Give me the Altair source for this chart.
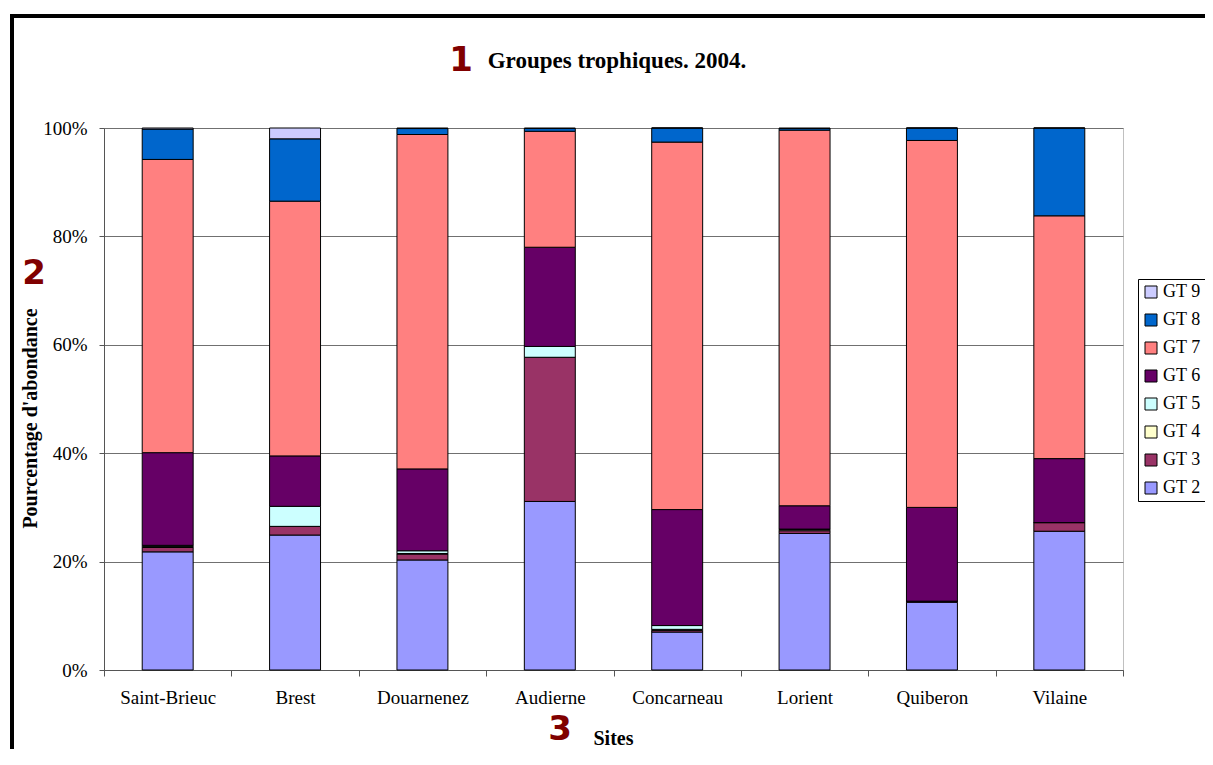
import altair as alt
import pandas as pd

sites = ["Saint-Brieuc", "Brest", "Douarnenez", "Audierne",
         "Concarneau", "Lorient", "Quiberon", "Vilaine"]
groups = ["GT 2", "GT 3", "GT 4", "GT 5", "GT 6", "GT 7", "GT 8", "GT 9"]
colors = ["#9999FF", "#993366", "#FFFFCC", "#CCFFFF",
          "#660066", "#FF8080", "#0066CC", "#CCCCFF"]

gt2 = [21.8, 24.9, 20.3, 31.1, 7.0, 25.2, 12.5, 25.6]
gt3 = [0.8, 1.6, 1.1, 26.6, 0.3, 0.5, 0.2, 1.6]
gt4 = [0.2, 0.0, 0.1, 0.0, 0.2, 0.2, 0.0, 0.0]
gt5 = [0.2, 3.7, 0.5, 2.0, 0.7, 0.1, 0.0, 0.0]
gt6 = [17.1, 9.3, 15.1, 18.3, 21.4, 4.3, 17.3, 11.8]
gt7 = [54.1, 47.0, 61.7, 21.4, 67.8, 69.3, 67.7, 44.8]
gt8 = [5.6, 11.5, 1.1, 0.5, 2.6, 0.3, 2.3, 16.2]
gt9 = [0.2, 2.0, 0.1, 0.1, 0.0, 0.1, 0.0, 0.0]

series = [gt2, gt3, gt4, gt5, gt6, gt7, gt8, gt9]
rows = []
for gi, (g, vals) in enumerate(zip(groups, series)):
    for s, v in zip(sites, vals):
        rows.append({"site": s, "group": g, "gidx": gi, "value": v})
df = pd.DataFrame(rows)

legend_order = groups[::-1]
color_order = colors[::-1]

SERIF = "Liberation Serif"

bars = alt.Chart(df).mark_bar(
    stroke="black", strokeWidth=1, width=alt.RelativeBandSize(0.4)
).encode(
    x=alt.X("site:N", sort=sites,
            scale=alt.Scale(paddingInner=0, paddingOuter=0),
            axis=alt.Axis(title="Sites", tickBand="extent", labelAngle=0,
                          tickSize=6, labelPadding=12, titleX=509, titleY=58,
                          titleAnchor=None)),
    y=alt.Y("value:Q", stack="normalize",
            scale=alt.Scale(domain=[0, 1]),
            axis=alt.Axis(title="Pourcentage d'abondance", format=".0%",
                          values=[0, 0.2, 0.4, 0.6, 0.8, 1.0], tickSize=5,
                          labelPadding=12, titleX=-74, titleY=290,
                          titleAngle=-90, titleAlign="center",
                          titleBaseline="middle", grid=True)),
    color=alt.Color("group:N",
                    scale=alt.Scale(domain=legend_order, range=color_order),
                    legend=alt.Legend(title=None, orient="none",
                                      legendX=1034, legendY=151,
                                      labelFont=SERIF, labelFontSize=18,
                                      labelColor="black",
                                      symbolType="square", symbolSize=144,
                                      symbolStrokeColor="black",
                                      symbolStrokeWidth=1, labelOffset=3,
                                      rowPadding=10, padding=4,
                                      strokeColor="black",
                                      fillColor="white")),
    order=alt.Order("gidx:Q", sort="ascending"),
)

one = pd.DataFrame([{"t": ""}])

frame = alt.Chart(one).mark_rect(
    stroke="black", strokeWidth=4, fillOpacity=0
).encode(x=alt.value(-92), x2=alt.value(1400),
         y=alt.value(-112), y2=alt.value(1000))

title = alt.Chart(one).mark_text(
    text="Groupes trophiques. 2004.", font=SERIF, fontSize=23,
    fontWeight="bold", align="center", baseline="middle", color="black"
).encode(x=alt.value(513), y=alt.value(-67))

num_style = dict(font="DejaVu Sans", fontSize=34, fontWeight="bold",
                 color="#800000", align="center", baseline="middle")
n1 = alt.Chart(one).mark_text(text="1", **num_style).encode(
    x=alt.value(357), y=alt.value(-67))
n2 = alt.Chart(one).mark_text(text="2", **num_style).encode(
    x=alt.value(-70), y=alt.value(146))
n3 = alt.Chart(one).mark_text(text="3", **num_style).encode(
    x=alt.value(456), y=alt.value(602))

chart = alt.layer(frame, bars, title, n1, n2, n3).properties(
    width=1019, height=542,
    padding={"left": 96, "top": 120, "right": 82, "bottom": 79},
    autosize=alt.AutoSizeParams(type="none"),
    background="white",
).configure_view(
    stroke="#c0c0c0", strokeWidth=1
).configure_axis(
    labelFont=SERIF, labelFontSize=19, labelColor="black",
    titleFont=SERIF, titleFontSize=20, titleFontWeight="bold",
    titleColor="black", domainColor="#555555", tickColor="#555555",
    gridColor="#707070", gridWidth=1, domainWidth=1, tickWidth=1,
).configure_axisX(
    grid=False
).configure_legend(
    cornerRadius=0, labelFont=SERIF,
)

chart.save("out.html", embed_options={"renderer": "svg", "actions": False})
